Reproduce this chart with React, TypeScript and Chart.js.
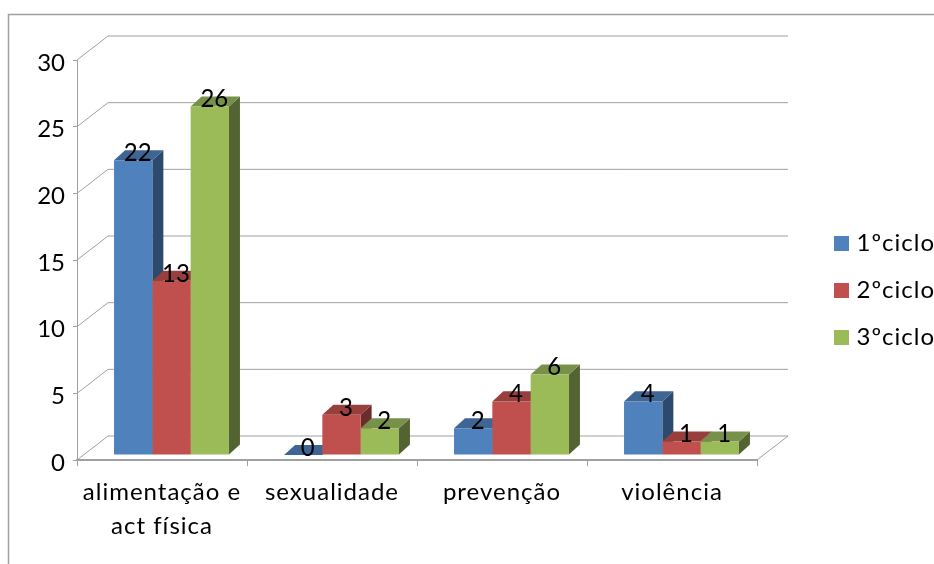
import React, { useEffect, useRef } from "react";
import { Chart, registerables } from "chart.js";

Chart.register(...registerables);

const categories = [["alimentação e", "act física"], "sexualidade", "prevenção", "violência"];
const ciclo1 = [22, 0, 2, 4];
const ciclo2 = [13, 3, 4, 1];
const ciclo3 = [26, 2, 6, 1];
const seriesNames = ["1ºciclo", "2ºciclo", "3ºciclo"];
const frontColors = ["#4F81BD", "#C0504D", "#9BBB59"];
const sideColors = ["#2C4A6E", "#6B2D2B", "#536432"];
const topColors = ["#3E6594", "#963F3D", "#78914A"];

const FONT = "Lato";
const GRID = "#a0a0a0";
const SPACING = "1px";
const DX = 31;
const DY = 24;
const BAR_DX = 11;
const BAR_DY = 10;

function barTransform(ctx: CanvasRenderingContext2D) {
  ctx.translate(9.5, 455);
  ctx.scale(1, 1.005);
  ctx.translate(0, -460);
}

function poly(ctx: CanvasRenderingContext2D, pts: number[][], color: string) {
  ctx.fillStyle = color;
  ctx.beginPath();
  pts.forEach((p, i) => (i ? ctx.lineTo(p[0], p[1]) : ctx.moveTo(p[0], p[1])));
  ctx.closePath();
  ctx.fill();
}

const box3d = {
  id: "box3d",
  beforeInit(chart: any) {
    (chart.ctx as any).letterSpacing = SPACING;
  },
  beforeDraw(chart: any) {
    const ctx = chart.ctx;
    (ctx as any).letterSpacing = SPACING;
    ctx.save();
    ctx.strokeStyle = "#a0a0a0";
    ctx.lineWidth = 1.5;
    ctx.beginPath();
    ctx.moveTo(8.5, 564);
    ctx.lineTo(8.5, 14.5);
    ctx.lineTo(934, 14.5);
    ctx.stroke();
    ctx.restore();
  },
  afterLayout(chart: any) {
    const l = chart.legend;
    l.left = 811;
    l.top = 208.5;
    l.right = 935;
    l.bottom = 500;
    const y = chart.scales.y;
    if (!y.__patched) {
      const orig = y.drawLabels;
      y.drawLabels = function (area: any) {
        (chart.ctx as any).letterSpacing = "0px";
        orig.call(this, area);
        (chart.ctx as any).letterSpacing = SPACING;
      };
      y.__patched = true;
    }
  },
  beforeDatasetsDraw(chart: any) {
    const ctx = chart.ctx;
    const { left, right } = chart.chartArea;
    const yScale = chart.scales.y;
    ctx.save();
    ctx.strokeStyle = GRID;
    ctx.lineWidth = 1;
    yScale.ticks.forEach((t: any) => {
      const py = yScale.getPixelForValue(t.value);
      ctx.beginPath();
      ctx.moveTo(left, py);
      ctx.lineTo(left + DX, py - DY);
      ctx.lineTo(right + DX, py - DY);
      ctx.stroke();
    });
    const py0 = yScale.getPixelForValue(0);
    ctx.beginPath();
    ctx.moveTo(right, py0);
    ctx.lineTo(right + DX, py0 - DY);
    ctx.stroke();
    ctx.restore();

    ctx.save();
    barTransform(ctx);
    chart.data.datasets.forEach((_: any, d: number) => {
      chart.getDatasetMeta(d).data.forEach((bar: any) => {
        const { x, y, base, width } = bar.getProps(["x", "y", "base", "width"], true);
        const l = x - width / 2;
        const r = x + width / 2;
        poly(ctx, [[r, y], [r + BAR_DX, y - BAR_DY], [r + BAR_DX, base - BAR_DY], [r, base]], sideColors[d]);
        poly(ctx, [[l, y], [l + BAR_DX, y - BAR_DY], [r + BAR_DX, y - BAR_DY], [r, y]], topColors[d]);
      });
    });
  },
  afterDatasetsDraw(chart: any) {
    const ctx = chart.ctx;
    (ctx as any).letterSpacing = "0px";
    ctx.fillStyle = "#000";
    ctx.font = `24px ${FONT}`;
    ctx.textAlign = "center";
    ctx.textBaseline = "middle";
    chart.data.datasets.forEach((ds: any, d: number) => {
      chart.getDatasetMeta(d).data.forEach((bar: any, i: number) => {
        const { x, y } = bar.getProps(["x", "y"], true);
        ctx.fillText(String(ds.data[i]), x + 4.5, y - 7);
      });
    });
    ctx.restore();
    (ctx as any).letterSpacing = SPACING;
  },
};

export default function App() {
  const ref = useRef<HTMLCanvasElement>(null);
  useEffect(() => {
    const chart = new Chart(ref.current!, {
      type: "bar",
      data: {
        labels: categories as any,
        datasets: [ciclo1, ciclo2, ciclo3].map((data, i) => ({
          label: seriesNames[i],
          data,
          backgroundColor: frontColors[i],
          borderWidth: 0,
          categoryPercentage: 0.676,
          barPercentage: 1,
          clip: false as any,
        })),
      },
      options: {
        responsive: false,
        animation: false,
        layout: { padding: { left: 0, top: 60, right: 177, bottom: 0 } },
        plugins: {
          tooltip: { enabled: false },
          title: { display: false },
          legend: {
            position: "chartArea" as any,
            align: "start",
            labels: {
              boxWidth: 15,
              boxHeight: 15,
              padding: 23,
              color: "#000",
              textAlign: "right",
              font: { family: FONT, size: 24 },
            },
          },
        },
        scales: {
          x: {
            afterFit: (s: any) => {
              s.height = 104;
            },
            grid: { drawOnChartArea: false, drawTicks: true, tickLength: 6, color: GRID, offset: true },
            border: { display: true, color: GRID, width: 2 },
            ticks: {
              color: "#000",
              padding: 9,
              maxRotation: 0,
              autoSkip: false,
              font: { family: FONT, size: 24, lineHeight: 1.42 },
            },
          },
          y: {
            min: 0,
            max: 30,
            afterFit: (s: any) => {
              s.width = 77;
            },
            grid: { drawOnChartArea: false, drawTicks: true, tickLength: 4, color: GRID },
            border: { display: true, color: GRID, width: 1 },
            ticks: {
              stepSize: 5,
              color: "#000",
              padding: 8,
              labelOffset: 3,
              font: { family: FONT, size: 24 },
            },
          },
        },
      },
      plugins: [box3d],
    } as any);
    return () => chart.destroy();
  }, []);
  return (
    <canvas
      ref={ref}
      width={934}
      height={564}
      style={{ position: "fixed", left: 0, top: 0, width: 934, height: 564, display: "block" }}
    />
  );
}
